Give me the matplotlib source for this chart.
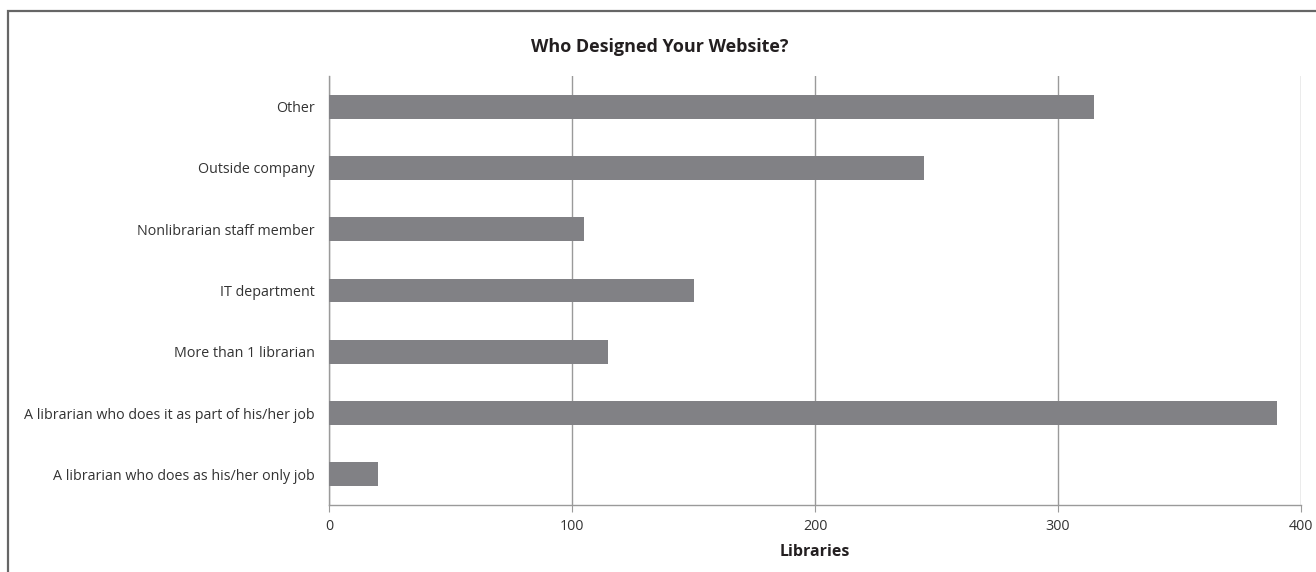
import numpy as np
import matplotlib
matplotlib.use("Agg")
import matplotlib.pyplot as plt
from matplotlib.patches import Rectangle

categories = ["A librarian who does as his/her only job",
              "A librarian who does it as part of his/her job",
              "More than 1 librarian",
              "IT department",
              "Nonlibrarian staff member",
              "Outside company",
              "Other"]
libraries = [20, 390, 115, 150, 105, 245, 315]
xticks = [0, 100, 200, 300, 400]

plt.rcParams["font.family"] = ["Open Sans", "DejaVu Sans"]

W, H = 1316, 572
fig = plt.figure(figsize=(W / 100, H / 100), dpi=100)
ax = fig.add_axes([329 / W, 1 - 505 / H, (1301 - 329) / W, (505 - 76) / H])

y = np.arange(len(categories))
ax.barh(y, libraries, height=0.39, color="#818185", zorder=3)

ax.set_xlim(0, 400)
ax.set_ylim(-0.5, len(categories) - 0.5)
ax.set_xticks(xticks)
ax.set_yticks(y)
ax.set_yticklabels(categories)
ax.grid(axis="x", color="#9a9a9a", linewidth=1.0, zorder=1)
ax.grid(axis="y", visible=False)

for s in ["top", "right"]:
    ax.spines[s].set_visible(False)
for s in ["left", "bottom"]:
    ax.spines[s].set_color("#9a9a9a")
    ax.spines[s].set_linewidth(1.0)

ax.tick_params(axis="x", length=5, color="#9a9a9a", labelsize=10.3,
               labelcolor="#333333", pad=5)
ax.tick_params(axis="y", length=0, labelsize=10.3, labelcolor="#333333",
               pad=10)

ax.set_xlabel("Libraries", fontsize=11.5, fontweight="bold", color="#231f20",
              labelpad=7)
fig.text(660 / W, 1 - 47 / H, "Who Designed Your Website?", ha="center",
         va="center", fontsize=13, fontweight="bold", color="#231f20")

# outer frame, clipped by the image edges
fig.patches.append(Rectangle((8 / W, -0.1), 1.2, 1 - 11 / H + 0.1,
                             transform=fig.transFigure, fill=False,
                             edgecolor="#666666", linewidth=1.6))

fig.savefig("out.png", dpi=100)
